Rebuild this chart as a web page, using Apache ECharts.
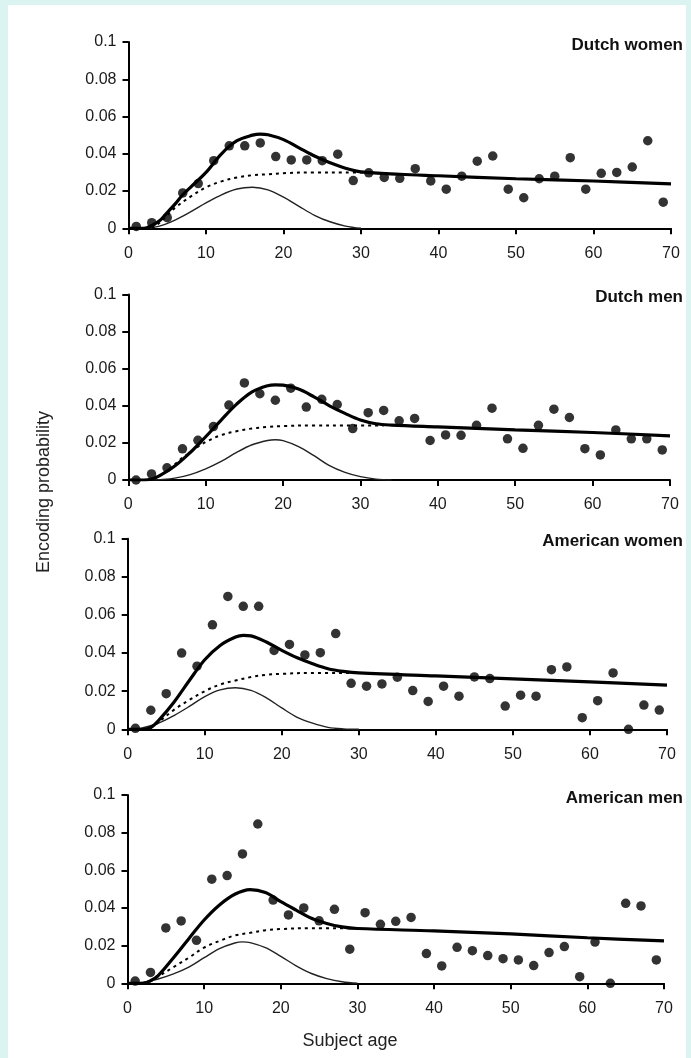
<!DOCTYPE html>
<html><head><meta charset="utf-8">
<script src="https://cdn.jsdelivr.net/npm/echarts@6/dist/echarts.min.js"></script>
<style>
html,body{margin:0;padding:0;background:#dcf4f1;width:691px;height:1058px;overflow:hidden;}
#paper{position:absolute;left:8px;top:5px;width:678px;height:1053px;background:#fff;}
#c{position:absolute;left:0;top:0;width:691px;height:1058px;}
</style>
</head><body><div id="paper"></div><div id="c"></div>
<script>
// ---------- data ----------
const ages = [1,3,5,7,9,11,13,15,17,19,21,23,25,27,29,31,33,35,37,39,41,43,45,47,49,51,53,55,57,59,61,63,65,67,69];
const panelTitles = ['Dutch women','Dutch men','American women','American men'];

// observed points
const dwPts = [0.001,0.003,0.0057,0.019,0.024,0.0363,0.0443,0.0443,0.0458,0.0385,0.0367,0.0367,0.0363,0.0398,0.0256,0.0298,0.0273,0.0268,0.032,0.0254,0.021,0.028,0.036,0.0388,0.021,0.0164,0.0266,0.028,0.0379,0.021,0.0295,0.030,0.0329,0.047,0.014];
const dmPts = [0.0,0.0033,0.0066,0.0168,0.0214,0.0288,0.0404,0.0523,0.0465,0.043,0.0495,0.0393,0.0435,0.0407,0.0277,0.0363,0.0375,0.0319,0.0332,0.0213,0.0243,0.0241,0.0295,0.0387,0.0222,0.0171,0.0295,0.0382,0.0337,0.0169,0.0135,0.027,0.0222,0.0222,0.0162];
const awPts = [0.0005,0.0100,0.0187,0.040,0.0331,0.0548,0.0697,0.0645,0.0645,0.0414,0.0445,0.039,0.0402,0.0502,0.0241,0.0226,0.0238,0.0273,0.0203,0.0146,0.0226,0.0174,0.0275,0.0266,0.0122,0.0179,0.0174,0.0313,0.0327,0.0061,0.015,0.0296,0.0,0.0127,0.0101];
const amPts = [0.0012,0.0058,0.0294,0.0331,0.0228,0.0553,0.0572,0.0687,0.0846,0.0442,0.0363,0.0400,0.0332,0.0393,0.0181,0.0375,0.0313,0.0329,0.035,0.0158,0.0092,0.0191,0.0173,0.0147,0.0131,0.0124,0.0094,0.0163,0.0195,0.0035,0.0219,0.0,0.0425,0.0411,0.0124];

// overall fitted curve (thick)
const dwFitAge = [0,2,3,4,5,6,7,8,10,12,14,16,17,18,20,22,24,26,28,30,35,40,50,60,70];
const dwFitVal = [0,0,0.0015,0.004,0.0085,0.013,0.018,0.022,0.030,0.040,0.047,0.050,0.0506,0.0502,0.0476,0.0432,0.0388,0.0352,0.0322,0.0303,0.029,0.0282,0.0266,0.0254,0.0238];
const dmFitAge = [0,2,3,4,6,8,9,10,12,14,16,18,19,20,22,24,26,28,30,32,34,40,50,60,70];
const dmFitVal = [0,0,0.0005,0.0022,0.0075,0.0148,0.019,0.0233,0.0323,0.0409,0.0475,0.0508,0.0513,0.0511,0.049,0.0448,0.040,0.0359,0.0323,0.0303,0.0296,0.0286,0.027,0.0256,0.0238];
const awFitAge = [0,2,3,4,6,8,10,12,14,15,16,18,20,22,24,26,28,30,40,50,60,70];
const awFitVal = [0,0,0.001,0.0046,0.0142,0.0256,0.0365,0.044,0.0484,0.0493,0.049,0.0458,0.0414,0.0375,0.0344,0.0318,0.0304,0.0296,0.028,0.0265,0.0249,0.0232];
const amFitAge = [0,2,3,4,6,8,10,12,14,16,18,20,22,24,26,28,30,40,50,60,70];
const amFitVal = [0,0,0.0014,0.0041,0.0136,0.0237,0.0336,0.0416,0.0473,0.0498,0.0482,0.0434,0.0389,0.0345,0.0318,0.030,0.0291,0.0278,0.0262,0.0242,0.0225];

// baseline component (dotted)
const dwBaseAge = [3,4,5,6,8,10,12,14,16,18,20,24,28,31];
const dwBaseVal = [0,0.003,0.007,0.011,0.017,0.022,0.0252,0.0273,0.0285,0.029,0.0296,0.030,0.030,0.030];
const dmBaseAge = [3,5,7,8,9,10,12,14,16,18,20,24,28,33];
const dmBaseVal = [0,0.005,0.012,0.0148,0.018,0.0205,0.0242,0.0263,0.0278,0.0286,0.0291,0.0294,0.0294,0.0294];
const awBaseAge = [2,3,4,6,8,10,12,14,16,18,20,24,29];
const awBaseVal = [0,0.0007,0.0037,0.0102,0.0154,0.020,0.0235,0.0256,0.0274,0.0286,0.0291,0.0296,0.0296];
const amBaseAge = [2,3,4,6,8,10,12,14,16,18,20,24,29];
const amBaseVal = [0,0.001,0.0036,0.0086,0.0136,0.019,0.0225,0.0254,0.0268,0.0282,0.0288,0.0293,0.0293];

// reminiscence bump component (thin)
const dwBumpAge = [0,2,4,6,8,10,12,14,16,18,20,22,24,26,28,30];
const dwBumpVal = [0,0,0.0012,0.0044,0.0088,0.0136,0.018,0.0211,0.022,0.0206,0.0167,0.0118,0.007,0.0035,0.0012,0];
const dmBumpAge = [0,3,4,6,8,10,12,14,16,18,19,20,22,24,26,28,30,32,34];
const dmBumpVal = [0,0,0.0002,0.001,0.0029,0.006,0.010,0.0149,0.019,0.0213,0.0217,0.0212,0.018,0.0131,0.0077,0.0041,0.0018,0.0005,0];
const awBumpAge = [0,1,2,4,6,8,10,12,14,16,18,20,22,24,26,28,30];
const awBumpVal = [0,0,0.0008,0.0032,0.0072,0.012,0.0172,0.0207,0.0218,0.0204,0.0165,0.0112,0.0063,0.0032,0.001,0.0002,0];
const amBumpAge = [0,2,4,6,8,10,12,14,15,16,18,20,22,24,26,28,30];
const amBumpVal = [0,0.0005,0.0023,0.005,0.0086,0.0136,0.0184,0.0214,0.022,0.0216,0.0189,0.0143,0.0093,0.0052,0.0025,0.0008,0];

const panels = [
  {pts: dwPts, fa: dwFitAge, fv: dwFitVal, ba: dwBaseAge, bv: dwBaseVal, ua: dwBumpAge, uv: dwBumpVal},
  {pts: dmPts, fa: dmFitAge, fv: dmFitVal, ba: dmBaseAge, bv: dmBaseVal, ua: dmBumpAge, uv: dmBumpVal},
  {pts: awPts, fa: awFitAge, fv: awFitVal, ba: awBaseAge, bv: awBaseVal, ua: awBumpAge, uv: awBumpVal},
  {pts: amPts, fa: amFitAge, fv: amFitVal, ba: amBaseAge, bv: amBaseVal, ua: amBumpAge, uv: amBumpVal}
];

// ---------- layout ----------
const FONT = "'Liberation Sans', Arial, Helvetica, sans-serif";
const gridBoxes = [
  {left:128.5, top:42,    width:542.5, height:186.3},
  {left:128.3, top:294.5, width:541.7, height:185.5},
  {left:127.7, top:538.7, width:539.3, height:190.6},
  {left:127.5, top:795,   width:536.5, height:188.3}
];
const zip = (a, b) => a.map((x, i) => [x, b[i]]);

const grid = [], xAxis = [], yAxis = [], series = [], graphic = [];
panels.forEach((p, i) => {
  const g = gridBoxes[i];
  grid.push({left: g.left, top: g.top, width: g.width, height: g.height, containLabel: false});
  xAxis.push({
    gridIndex: i, type: 'value', min: 0, max: 70, interval: 10,
    axisLine: {show: true, onZero: false, lineStyle: {color: '#000', width: 2}},
    axisTick: {show: true, length: 6, lineStyle: {color: '#000', width: 2}},
    axisLabel: {fontSize: 16, color: '#1a1a1a', margin: 17, fontFamily: FONT},
    splitLine: {show: false}
  });
  yAxis.push({
    gridIndex: i, type: 'value', min: 0, max: 0.1, interval: 0.02,
    axisLine: {show: true, onZero: false, lineStyle: {color: '#000', width: 2}},
    axisTick: {show: true, length: 6, lineStyle: {color: '#000', width: 2}},
    axisLabel: {fontSize: 16, color: '#1a1a1a', margin: 12, fontFamily: FONT,
      formatter: v => String(+v.toFixed(2))},
    splitLine: {show: false}
  });
  series.push({
    type: 'line', xAxisIndex: i, yAxisIndex: i, data: zip(p.ua, p.uv),
    showSymbol: false, smooth: 0.35, z: 3,
    lineStyle: {color: '#222', width: 1.4}
  });
  series.push({
    type: 'line', xAxisIndex: i, yAxisIndex: i, data: zip(p.ba, p.bv),
    showSymbol: false, smooth: 0.35, z: 3,
    lineStyle: {color: '#000', width: 2, type: [3, 4]}
  });
  series.push({
    type: 'line', xAxisIndex: i, yAxisIndex: i, data: zip(p.fa, p.fv),
    showSymbol: false, smooth: 0.35, z: 4,
    lineStyle: {color: '#000', width: 3.2}
  });
  series.push({
    type: 'scatter', xAxisIndex: i, yAxisIndex: i, data: zip(ages, p.pts),
    symbol: 'circle', symbolSize: 9.5, clip: false, z: 5,
    itemStyle: {color: '#000'}
  });
  graphic.push({
    type: 'text', x: 683, y: g.top + 3,
    style: {text: panelTitles[i], fill: '#111', font: 'bold 17px ' + FONT,
      align: 'right', verticalAlign: 'middle', textAlign: 'right', textVerticalAlign: 'middle'}
  });
});
graphic.push({
  type: 'text', x: 44, y: 492, rotation: Math.PI / 2,
  style: {text: 'Encoding probability', fill: '#222', font: '18px ' + FONT,
    align: 'center', verticalAlign: 'middle', textAlign: 'center', textVerticalAlign: 'middle'}
});
graphic.push({
  type: 'text', x: 350, y: 1041,
  style: {text: 'Subject age', fill: '#222', font: '18px ' + FONT,
    align: 'center', verticalAlign: 'middle', textAlign: 'center', textVerticalAlign: 'middle'}
});

const chart = echarts.init(document.getElementById('c'), null, {renderer: 'canvas'});
chart.setOption({
  animation: false,
  backgroundColor: 'transparent',
  grid, xAxis, yAxis, series, graphic
});
</script>
</body></html>
